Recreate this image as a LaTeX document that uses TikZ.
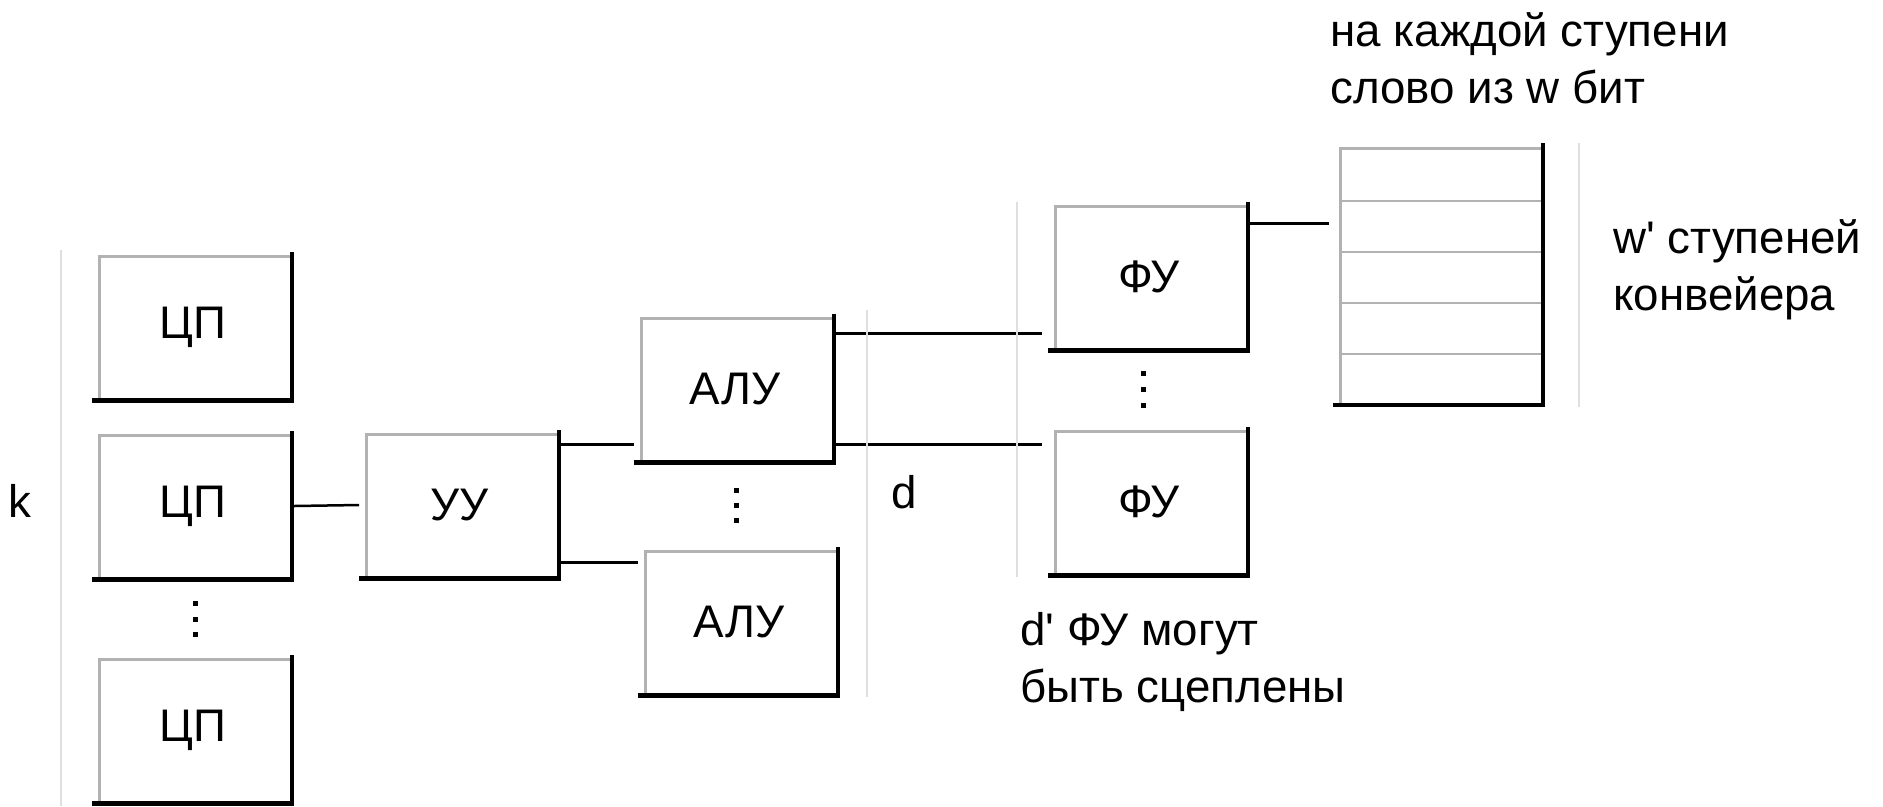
\documentclass[tikz,border=0pt]{standalone}
\usepackage{fontspec}
\setmainfont{Liberation Sans}
\usepackage{tikz}
\newcommand{\bukvy}{\fontsize{26}{32.3}\selectfont}

\begin{document}
\begin{tikzpicture}[x=0.02cm, y=-0.02cm,
    blok/.style={rectangle, minimum width=4.04cm, minimum height=3.02cm, inner sep=0pt, outer sep=0pt, font=\bukvy},
    svyaz/.style={line width=0.05cm, black},
    svet/.style={line width=0.06cm, gray!60},
    ten/.style={line width=0.09cm, black},
    razdel/.style={line width=0.03cm, gray!25},
    podpis/.style={font=\bukvy, align=left, inner sep=0pt, anchor=base west}
]
\useasboundingbox (0,0) rectangle (1883,806);

% Nodes
\node[blok] (cp1) at (193,327) {ЦП};
\node[blok] (cp2) at (193,506) {ЦП};
\node[blok] (cp3) at (193,730) {ЦП};
\node[blok] (uu) at (460,505) {УУ};
\node[blok] (alu1) at (735,389) {АЛУ};
\node[blok] (alu2) at (739,622) {АЛУ};
\node[blok] (fu1) at (1149,277) {ФУ};
\node[blok] (fu2) at (1149,502) {ФУ};
\node[rectangle, minimum width=4.24cm, minimum height=5.28cm, inner sep=0pt, outer sep=0pt] (reg) at (1439,275) {};

% Register stages
\foreach \k in {1,...,4}
    \draw[svet, line width=0.05cm] ([shift={(7,{7+51*\k})}]reg.north west) -- ([shift={(-4,{7+51*\k})}]reg.north east);

% 3D edges
\foreach \n in {cp1,cp2,cp3,uu,alu1,alu2,fu1,fu2,reg} {
    \draw[svet] ([shift={(7,-4)}]\n.south west) -- ([shift={(7,5)}]\n.north west) -- ([shift={(-4,5)}]\n.north east);
    \draw[ten] ([shift={(0,-2)}]\n.south west) -- ([shift={(-2,-2)}]\n.south east) -- ([shift={(-2,0)}]\n.north east);
}

% Connectors
\coordinate (u1) at ([shift={(0,15)}]uu.north east);
\coordinate (u2) at ([shift={(0,-18)}]uu.south east);
\coordinate (a1) at ([shift={(0,20)}]alu1.north east);
\coordinate (a2) at ([shift={(0,-20)}]alu1.south east);
\coordinate (vhod) at ([shift={(0,22)}]fu1.north east);
\draw[svyaz] (cp2.east) -- (uu.west);
\draw[svyaz] (u1) -- (u1 -| alu1.west);
\draw[svyaz] (u2) -- (u2 -| alu2.west);
\draw[svyaz] (a1) -- ([xshift=-0.12cm]a1 -| fu1.west);
\draw[svyaz] (a2) -- ([xshift=-0.12cm]a2 -| fu2.west);
\draw[svyaz] (vhod) -- ([xshift=-0.08cm]vhod -| reg.west);

% Separators
\draw[razdel] (61,250) -- (61,806);
\draw[razdel] (867,310) -- (867,697);
\draw[razdel] (1017,202) -- (1017,577);
\draw[razdel] (1579,143) -- (1579,407);

% Dots
\foreach \y in {603,619,634} \fill (192.5,\y-2.5) rectangle +(5,5);
\foreach \y in {490,505,520} \fill (733.5,\y-2.5) rectangle +(5,5);
\foreach \y in {373,389,405} \fill (1140.5,\y-2.5) rectangle +(5,5);

% Labels
\node[podpis] (k) at (8,517) {k};
\node[podpis] (d) at (891,508) {d};
\node[podpis] (sceplenie) at (1020,702) {d\textquotesingle{} ФУ могут\\быть сцеплены};
\node[podpis] (slovo) at (1330,103) {на каждой ступени\\слово из w бит};
\node[podpis] (stupeni) at (1613,310) {w\textquotesingle{} ступеней\\конвейера};
\end{tikzpicture}
\end{document}
